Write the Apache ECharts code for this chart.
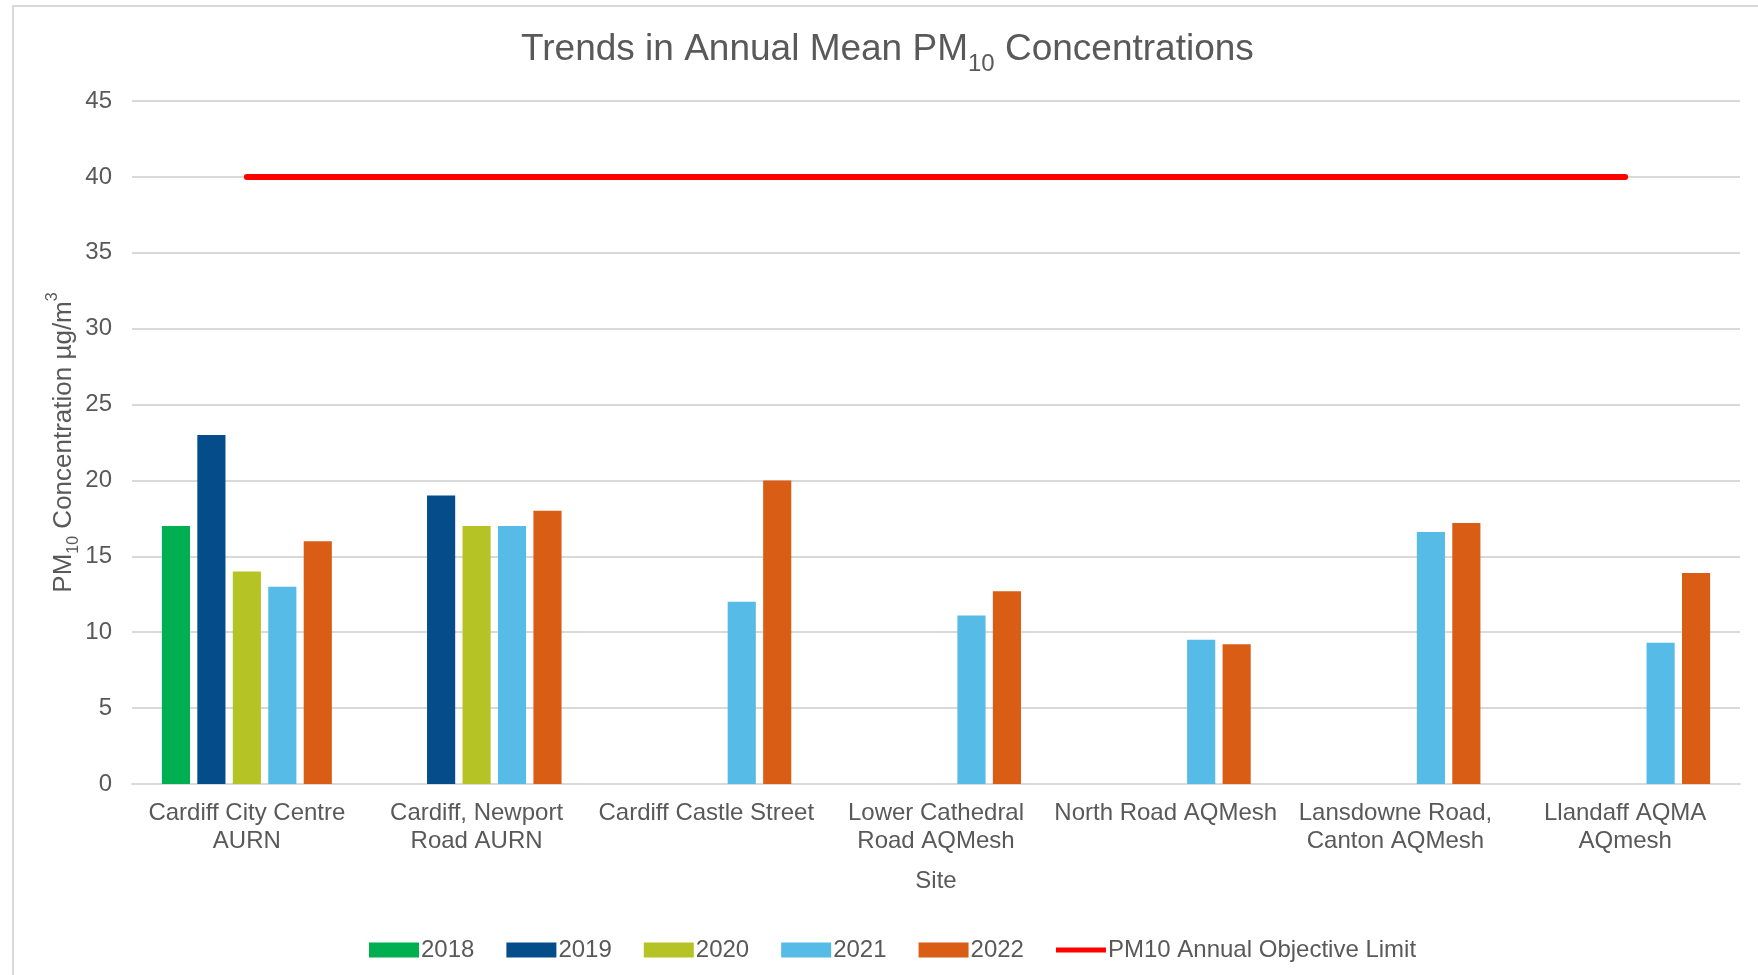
<!DOCTYPE html>
<html>
<head>
<meta charset="utf-8">
<script src="https://cdn.jsdelivr.net/npm/echarts@6/dist/echarts.min.js"></script>
<style>html,body{margin:0;padding:0;background:#fff;}#c{width:1758px;height:975px;}</style>
</head>
<body>
<div id="c"></div>
<script>
const sites = ["Cardiff City Centre\nAURN", "Cardiff, Newport\nRoad AURN", "Cardiff Castle Street", "Lower Cathedral\nRoad AQMesh", "North Road AQMesh", "Lansdowne Road,\nCanton AQMesh", "Llandaff AQMA\nAQmesh"];
const y2018 = [17, null, null, null, null, null, null];
const y2019 = [23, 19, null, null, null, null, null];
const y2020 = [14, 17, null, null, null, null, null];
const y2021 = [13, 17, 12, 11.1, 9.5, 16.6, 9.3];
const y2022 = [16, 18, 20, 12.7, 9.2, 17.2, 13.9];
const objective = [40, 40, 40, 40, 40, 40, 40];
const yTicks = [0, 5, 10, 15, 20, 25, 30, 35, 40, 45];

const FONT = '"Liberation Sans", Arial, sans-serif';
const GREY = '#595959';
const chart = echarts.init(document.getElementById('c'));
const bar = (name, data, color) => ({
  name, type: 'bar', data, barGap: '26%', barCategoryGap: '26%',
  itemStyle: { color }
});
chart.setOption({
  animation: false,
  textStyle: { fontFamily: FONT },
  graphic: [{
    type: 'rect', shape: { x: 13, y: 6, width: 1800, height: 1000 },
    style: { fill: 'none', stroke: '#d9d9d9', lineWidth: 2 }, silent: true, z: -10
  }],
  title: {
    text: '{a|Trends in Annual Mean PM}{s|10}{a| Concentrations}',
    left: 516, top: 21,
    textStyle: {
      fontWeight: 'normal',
      rich: {
        a: { fontSize: 37, color: GREY, fontFamily: FONT, fontWeight: 'normal', verticalAlign: 'bottom', lineHeight: 42 },
        s: { fontSize: 24, color: GREY, fontFamily: FONT, fontWeight: 'normal', verticalAlign: 'bottom', lineHeight: 42, padding: [0, 0, -8, 0] }
      }
    }
  },
  grid: { left: 132, right: 18, top: 101, bottom: 191 },
  legend: {
    bottom: 8, left: 364, itemWidth: 50, itemHeight: 15, itemGap: 32,
    textStyle: { fontSize: 24, color: GREY, fontFamily: FONT, padding: [0, 0, 0, -3] },
    data: [
      { name: '2018', icon: 'rect' }, { name: '2019', icon: 'rect' }, { name: '2020', icon: 'rect' },
      { name: '2021', icon: 'rect' }, { name: '2022', icon: 'rect' },
      { name: 'PM10 Annual Objective Limit', icon: 'path://M0,0 M0,10 L100,10 L100,20 L0,20 Z M100,30' }
    ]
  },
  xAxis: {
    type: 'category', data: sites,
    name: 'Site', nameLocation: 'middle', nameGap: 85,
    nameTextStyle: { fontSize: 24, color: GREY, fontFamily: FONT },
    axisLine: { lineStyle: { color: '#d9d9d9', width: 2 } },
    axisTick: { show: false },
    axisLabel: { fontSize: 24, color: GREY, lineHeight: 28, margin: 15, interval: 0, fontFamily: FONT }
  },
  yAxis: {
    type: 'value', min: yTicks[0], max: yTicks[yTicks.length - 1], interval: 5,
    name: '{a|PM}{s|10}{a| Concentration µg/m}{p|3}',
    nameLocation: 'middle', nameRotate: 90, nameGap: 55, nameMoveOverlap: false,
    nameTextStyle: {
      rich: {
        a: { fontSize: 26, color: GREY, fontFamily: FONT, verticalAlign: 'bottom', lineHeight: 32 },
        s: { fontSize: 16, color: GREY, fontFamily: FONT, verticalAlign: 'bottom', lineHeight: 32, padding: [0, 0, -5, 0] },
        p: { fontSize: 16, color: GREY, fontFamily: FONT, verticalAlign: 'top', lineHeight: 32 }
      }
    },
    axisLine: { show: false }, axisTick: { show: false },
    axisLabel: { fontSize: 24, color: GREY, margin: 20, fontFamily: FONT },
    splitLine: { lineStyle: { color: '#d9d9d9', width: 2 } }
  },
  series: [
    bar('2018', y2018, '#00b050'),
    bar('2019', y2019, '#054c8a'),
    bar('2020', y2020, '#b5c424'),
    bar('2021', y2021, '#56bbe6'),
    bar('2022', y2022, '#da5d15'),
    {
      name: 'PM10 Annual Objective Limit', type: 'line', data: objective,
      symbol: 'none', lineStyle: { color: '#ff0000', width: 6, cap: 'round' },
      itemStyle: { color: '#ff0000' }, z: 5
    }
  ]
});
</script>
</body>
</html>
